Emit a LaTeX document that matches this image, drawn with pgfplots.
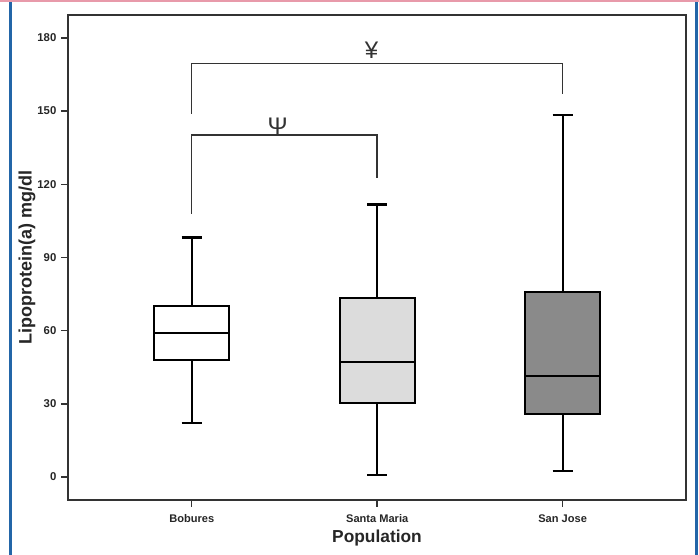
\documentclass[border=0pt]{standalone}
\usepackage{fontspec}
\setmainfont{Liberation Sans}
\usepackage{pgfplots}
\pgfplotsset{compat=1.18}
\definecolor{bordblue}{HTML}{2366A8}
\definecolor{bordpink}{HTML}{E89AAA}
\definecolor{smgray}{HTML}{DCDCDC}
\definecolor{sjgray}{HTML}{8A8A8A}
\definecolor{darkline}{HTML}{333333}
\begin{document}
\begin{tikzpicture}
\useasboundingbox (0,0) rectangle (524.25pt,416.25pt);
\fill[white] (0,0) rectangle (524.25pt,416.25pt);
\fill[bordpink] (0,414.75pt) rectangle (524.25pt,416.25pt);
\fill[bordblue] (6.375pt,0) rectangle (8.625pt,414.75pt);
\fill[bordblue] (520.875pt,0) rectangle (523.125pt,414.75pt);
\begin{axis}[
  at={(51pt,41.25pt)}, anchor=south west,
  scale only axis, width=463.5pt, height=363.75pt,
  xmin=-0.667, xmax=2.665, ymin=-9.43, ymax=189.4,
  xtick={0,1,2}, xticklabels={Bobures,Santa Maria,San Jose},
  ytick={0,30,60,90,120,150,180},
  tick align=outside, tick pos=left,
  major tick length=5.2pt,
  axis line style={darkline,line width=1.3pt},
  major tick style={darkline,line width=1.1pt},
  /pgf/number format/assume math mode=true,
  yticklabel style={font=\fontsize{8.5}{8.5}\selectfont\bfseries, text=black!85},
  xticklabel style={font=\fontsize{8.3}{8.3}\selectfont\bfseries, text=black!85, yshift=-2pt},
  xlabel={Population}, ylabel={Lipoprotein(a) mg/dl},
  xlabel style={font=\fontsize{13}{13}\selectfont\bfseries, text=black!85, at={(axis description cs:0.5,-0.0785)}, anchor=center},
  ylabel style={font=\fontsize{13.5}{13.5}\selectfont\bfseries, text=black!85, at={(axis description cs:-0.0663,0.5)}, anchor=center},
  clip=false,
  bx/.style={draw=black, line width=1.6pt, line join=miter},
  wk/.style={black, line width=1.6pt, mark=none},
]
% Bobures: lower whisker 22.1, Q1 47.9, median 59, Q3 70, upper whisker 98.2
\addplot[wk] coordinates {(0,70) (0,98.2)};
\addplot[wk] coordinates {(0,47.9) (0,22.1)};
\addplot[wk] coordinates {(-0.054,98.2) (0.054,98.2)};
\addplot[wk] coordinates {(-0.054,22.1) (0.054,22.1)};
\addplot[bx, fill=white] coordinates {(-0.2025,47.9) (0.2025,47.9) (0.2025,70) (-0.2025,70)} --cycle;
\addplot[wk] coordinates {(-0.2025,59) (0.2025,59)};
% Santa Maria: 0.8, 30.2, 47.2, 73.5, 111.7
\addplot[wk] coordinates {(1,73.5) (1,111.7)};
\addplot[wk] coordinates {(1,30.2) (1,0.8)};
\addplot[wk] coordinates {(0.946,111.7) (1.054,111.7)};
\addplot[wk] coordinates {(0.946,0.8) (1.054,0.8)};
\addplot[bx, fill=smgray] coordinates {(0.7975,30.2) (1.2025,30.2) (1.2025,73.5) (0.7975,73.5)} --cycle;
\addplot[wk] coordinates {(0.7975,47.2) (1.2025,47.2)};
% San Jose: 2.6, 25.8, 41.3, 75.8, 148.5
\addplot[wk] coordinates {(2,75.8) (2,148.5)};
\addplot[wk] coordinates {(2,25.8) (2,2.6)};
\addplot[wk] coordinates {(1.946,148.5) (2.054,148.5)};
\addplot[wk] coordinates {(1.946,2.6) (2.054,2.6)};
\addplot[bx, fill=sjgray] coordinates {(1.7975,25.8) (2.2025,25.8) (2.2025,75.8) (1.7975,75.8)} --cycle;
\addplot[wk] coordinates {(1.7975,41.3) (2.2025,41.3)};
% significance brackets
\addplot[darkline, line width=1.1pt, mark=none] coordinates {(0,149) (0,169.5) (2,169.5) (2,157)};
\addplot[darkline, line width=1.1pt, mark=none] coordinates {(0,108) (0,140.2) (1,140.2) (1,122.7)};
\node[font=\fontsize{18}{18}\selectfont, anchor=south, inner sep=0pt, text=darkline] at (axis cs:0.464,140.4) {Ψ};
\node[font=\fontsize{18}{18}\selectfont, anchor=south, inner sep=0pt, text=darkline] at (axis cs:0.970,171.3) {¥};
\end{axis}
\end{tikzpicture}
\end{document}
